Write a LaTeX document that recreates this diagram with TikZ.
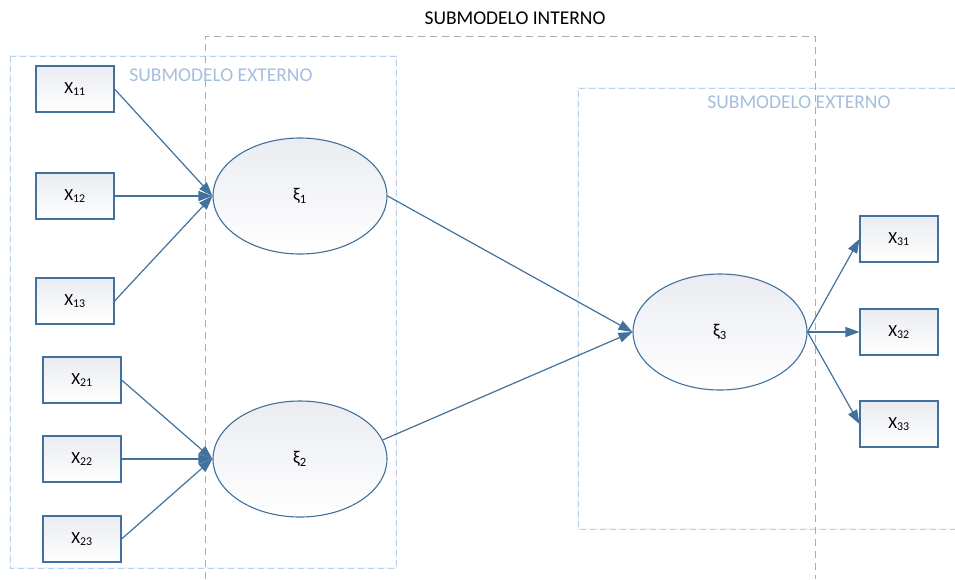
\documentclass[tikz,border=0pt]{standalone}
\usepackage{fontspec}
\setmainfont{Carlito}
\usetikzlibrary{arrows.meta,shapes.geometric}

\definecolor{edgeblue}{RGB}{65,113,156}
\definecolor{shadegray}{RGB}{234,236,241}
\definecolor{outerblue}{RGB}{186,208,236}
\definecolor{outerglow}{RGB}{240,246,252}
\definecolor{innergray}{RGB}{170,172,176}
\definecolor{labelblue}{RGB}{165,190,222}

\tikzset{
  indicator/.style={draw=edgeblue, line width=1.1pt, rectangle,
    minimum width=78pt, minimum height=46pt, inner sep=0pt,
    top color=shadegray, bottom color=white, font=\fontsize{17}{17}\selectfont},
  latent/.style={draw=edgeblue, line width=1.1pt, ellipse,
    minimum width=174pt, minimum height=116pt, inner sep=0pt,
    top color=shadegray, bottom color=white, font=\fontsize{18}{18}\selectfont},
  link/.style={draw=edgeblue, line width=1.2pt, -{Triangle[length=14pt,width=10pt]}},
  outerframe/.style={draw=outerblue, line width=0.9pt, dash pattern=on 6pt off 4pt},
  outerhalo/.style={draw=outerglow, line width=2.5pt},
  innerframe/.style={draw=innergray, line width=0.8pt, dash pattern=on 7pt off 5pt},
  framelabel/.style={text=labelblue, font=\fontsize{19.5}{19.5}\selectfont, inner sep=0pt}
}

\begin{document}
\begin{tikzpicture}[x=1pt,y=-1pt]
\useasboundingbox (0,0) rectangle (955,579);

% outer (measurement) submodels
\draw[outerhalo] (10,56) rectangle (396,568);
\draw[outerframe] (10,56) rectangle (396,568);
\draw[outerhalo] (955,88) -- (578,88) -- (578,529) -- (955,529);
\draw[outerframe] (955,88) -- (578,88) -- (578,529) -- (955,529);

% inner (structural) submodel, open at the bottom
\draw[innerframe] (205,579) -- (205,36) -- (815,36) -- (815,579);

\node[font=\fontsize{19.5}{19.5}\selectfont, inner sep=0pt] (tin) at (515,18) {SUBMODELO INTERNO};
\node[framelabel] (tex1) at (221,75) {SUBMODELO EXTERNO};
\node[framelabel] (tex2) at (799,102) {SUBMODELO EXTERNO};

% latent variables
\node[latent] (e1) at (300,196) {ξ\textsubscript{1}};
\node[latent] (e2) at (300,459) {ξ\textsubscript{2}};
\node[latent] (e3) at (720,332) {ξ\textsubscript{3}};

% indicators
\node[indicator] (x11) at (75,89)  {X\textsubscript{11}};
\node[indicator] (x12) at (75,196) {X\textsubscript{12}};
\node[indicator] (x13) at (75,301) {X\textsubscript{13}};
\node[indicator] (x21) at (82,380) {X\textsubscript{21}};
\node[indicator] (x22) at (82,459) {X\textsubscript{22}};
\node[indicator] (x23) at (82,539) {X\textsubscript{23}};
\node[indicator] (x31) at (899,239) {X\textsubscript{31}};
\node[indicator] (x32) at (899,332) {X\textsubscript{32}};
\node[indicator] (x33) at (899,424) {X\textsubscript{33}};

% connectors
\draw[link] (x11.east) -- (e1.west);
\draw[link] (x12.east) -- (e1.west);
\draw[link] (x13.east) -- (e1.west);
\draw[link] (x21.east) -- (e2.west);
\draw[link] (x22.east) -- (e2.west);
\draw[link] (x23.east) -- (e2.west);
\draw[link] (e1.east) -- (e3.west);
\draw[link] (e2.13) -- (e3.west);
\draw[link] (e3.east) -- (x31.west);
\draw[link] (e3.east) -- (x32.west);
\draw[link] (e3.east) -- (x33.west);
\end{tikzpicture}
\end{document}
